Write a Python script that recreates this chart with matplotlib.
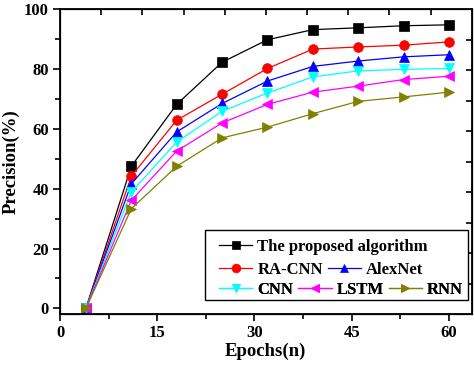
import numpy as np
import matplotlib
matplotlib.use("Agg")
import matplotlib.pyplot as plt
from matplotlib.patches import Rectangle

plt.rcParams['font.family'] = ['Liberation Serif', 'DejaVu Serif']
plt.rcParams['font.weight'] = 'bold'

epochs = [4, 11, 18, 25, 32, 39, 46, 53, 60]
proposed = [0, 47.5, 68.2, 82.3, 89.8, 93.2, 93.8, 94.5, 94.8]
ra_cnn = [0, 44.2, 62.9, 71.6, 80.2, 86.7, 87.4, 88.0, 89.1]
alexnet = [0, 41.6, 59.0, 68.5, 76.0, 80.9, 82.7, 84.1, 84.8]
cnn = [0, 38.9, 55.6, 65.9, 72.0, 77.4, 79.4, 79.9, 80.2]
lstm = [0, 36.1, 52.6, 62.0, 68.2, 72.3, 74.3, 76.5, 77.6]
rnn = [0, 33.3, 47.5, 57.0, 60.6, 65.1, 69.2, 70.7, 72.3]

series = [
    ('The proposed algorithm', proposed, 'black', 's'),
    ('RA-CNN', ra_cnn, '#ff0000', 'o'),
    ('AlexNet', alexnet, '#0000ff', '^'),
    ('CNN', cnn, '#00ffff', 'v'),
    ('LSTM', lstm, '#ff00ff', '<'),
    ('RNN', rnn, '#808000', '>'),
]

fig = plt.figure(figsize=(4.74, 3.67), dpi=100)
ax = fig.add_axes([0.1266, 0.1444, 0.8685, 0.8303])

xmin, xmax = 0, 63.5
ymin, ymax = -1.9, 100

handles = []
for name, vals, col, mk in series:
    h, = ax.plot(epochs, vals, color=col, marker=mk, markersize=7, lw=0.9,
                 markeredgewidth=0.5, markeredgecolor=col, label=name)
    handles.append(h)

ax.set_xlim(xmin, xmax)
ax.set_ylim(ymin, ymax)
ax.set_xticks([0, 15, 30, 45, 60])
ax.set_xticks([7.5, 22.5, 37.5, 52.5], minor=True)
ax.set_yticks([0, 20, 40, 60, 80, 100])
ax.set_yticks([10, 30, 50, 70, 90], minor=True)
ax.tick_params(which='major', direction='out', length=5, width=1.2, labelsize=12, pad=3)
ax.tick_params(which='minor', direction='out', length=3.5, width=1.2)
for lab in ax.get_xticklabels() + ax.get_yticklabels():
    lab.set_fontweight('bold')
for sp in ax.spines.values():
    sp.set_linewidth(1.3)

ax.set_xlabel('Epochs(n)', fontsize=13.5, fontweight='bold', labelpad=1)
ax.set_ylabel('Precision(%)', fontsize=13.5, fontweight='bold', labelpad=3)

# top and right axes split into ten equal parts
top = ax.twiny()
top.set_xlim(xmin, xmax)
top.set_xticks(np.linspace(xmin, xmax, 11)[1:-1])
top.tick_params(direction='in', length=4, width=1.2, labeltop=False)
right = ax.twinx()
right.set_ylim(ymin, ymax)
right.set_yticks(np.linspace(ymin, ymax, 11)[1:-1])
right.tick_params(direction='in', length=4, width=1.2, labelright=False)

# legend frame and rows
frame = Rectangle((0.4325, 0.1826), 0.555, 0.1907, transform=fig.transFigure,
                  facecolor='white', edgecolor='black', lw=1.0, zorder=4)
right.add_patch(frame)

rows = [(handles[0:1], 0.3278), (handles[1:3], 0.2643), (handles[3:6], 0.2098)]
for hs, yc in rows:
    leg = right.legend(handles=hs, loc='center left', bbox_to_anchor=(0.462, yc),
                       bbox_transform=fig.transFigure, frameon=False, ncol=len(hs),
                       prop={'size': 12, 'weight': 'bold'}, handlelength=2.0,
                       handletextpad=0.3, columnspacing=0.3, borderpad=0,
                       borderaxespad=0, markerscale=0.9)
    leg.set_zorder(6)
    right.add_artist(leg)

fig.savefig('out.png', dpi=100)
